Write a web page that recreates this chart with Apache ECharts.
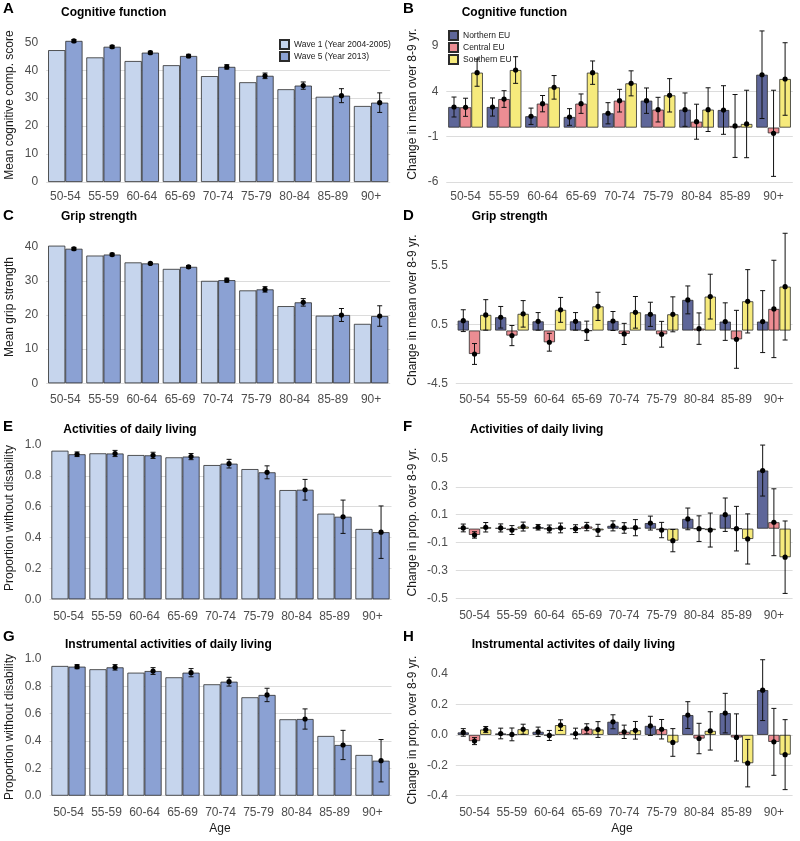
<!DOCTYPE html>
<html>
<head>
<meta charset="utf-8">
<script src="https://cdn.jsdelivr.net/npm/echarts@6/dist/echarts.min.js"></script>
<style>
  html, body { margin: 0; padding: 0; background: #fff; }
  #chart { width: 800px; height: 841px; }
</style>
</head>
<body>
<div id="chart"></div>
<script>
// categories
const ages = ['50-54', '55-59', '60-64', '65-69', '70-74', '75-79', '80-84', '85-89', '90+'];

// A: cognitive function, wave 1 vs wave 5
const cogW1 = [47.2, 44.6, 43.3, 41.8, 37.9, 35.7, 33.2, 30.5, 27.2];
const cogW5 = [50.5, 48.4, 46.3, 45.1, 41.2, 38.0, 34.5, 30.9, 28.4];
const cogW5Err = [0.5, 0.5, 0.5, 0.6, 0.8, 1.0, 1.3, 2.5, 3.5];

// B: change in cognitive function by region
const cogNorth = [2.27, 2.27, 1.25, 1.17, 1.58, 2.97, 1.98, 1.94, 5.83];
const cogNorthErr = [1.1, 1.0, 0.9, 0.92, 1.17, 1.4, 1.84, 2.68, 4.83];
const cogCentral = [2.24, 3.15, 2.64, 2.64, 2.97, 1.98, 0.65, 0.18, -0.63];
const cogCentralErr = [1.0, 0.92, 0.9, 1.07, 1.25, 1.36, 1.93, 3.47, 4.75];
const cogSouth = [6.06, 6.35, 4.44, 6.06, 4.88, 3.56, 1.98, 0.4, 5.36];
const cogSouthErr = [1.5, 1.47, 1.3, 1.29, 1.38, 1.84, 2.41, 3.72, 4.0];

// C: grip strength
const gripW1 = [40.3, 37.4, 35.4, 33.5, 30.0, 27.2, 22.6, 19.8, 17.4];
const gripW5 = [39.4, 37.7, 35.1, 34.1, 30.2, 27.5, 23.7, 20.0, 19.7];
const gripW5Err = [0.4, 0.4, 0.3, 0.4, 0.6, 0.8, 1.1, 1.9, 3.0];

// D: change in grip strength
const gripNorth = [0.84, 1.13, 0.78, 0.78, 0.81, 1.38, 2.61, 0.76, 0.76];
const gripNorthErr = [0.93, 0.92, 0.75, 0.75, 0.81, 1.03, 1.19, 1.6, 2.64];
const gripCentral = [-2.0, -0.43, -1.0, -0.02, -0.29, -0.32, 0.16, -0.75, 1.84];
const gripCentralErr = [0.89, 0.86, 0.76, 0.82, 0.9, 1.1, 1.34, 2.47, 4.15];
const gripSouth = [1.33, 1.42, 1.76, 2.06, 1.55, 1.38, 2.89, 2.49, 3.74];
const gripSouthErr = [1.3, 1.13, 1.06, 1.2, 1.35, 1.49, 1.91, 2.7, 4.55];

// E: activities of daily living
const adlW1 = [0.963, 0.946, 0.935, 0.920, 0.870, 0.844, 0.708, 0.555, 0.456];
const adlW5 = [0.940, 0.945, 0.933, 0.925, 0.879, 0.823, 0.710, 0.535, 0.435];
const adlW5Err = [0.015, 0.02, 0.02, 0.02, 0.028, 0.042, 0.067, 0.108, 0.17];

// F: change in ADL
const adlNorth = [0.005, 0.005, 0.01, 0.0, 0.02, 0.04, 0.07, 0.1, 0.417];
const adlNorthErr = [0.028, 0.029, 0.02, 0.028, 0.036, 0.05, 0.078, 0.12, 0.183];
const adlCentral = [-0.045, -0.01, -0.002, 0.015, 0.005, -0.01, 0.0, 0.0, 0.046];
const adlCentralErr = [0.023, 0.032, 0.028, 0.03, 0.038, 0.055, 0.092, 0.16, 0.24];
const adlSouth = [0.01, 0.015, 0.005, -0.012, 0.007, -0.086, -0.01, -0.074, -0.205];
const adlSouthErr = [0.034, 0.032, 0.035, 0.043, 0.058, 0.08, 0.122, 0.18, 0.26];

// G: instrumental activities of daily living
const iadlW1 = [0.949, 0.925, 0.90, 0.866, 0.815, 0.72, 0.559, 0.437, 0.298];
const iadlW5 = [0.944, 0.939, 0.912, 0.90, 0.834, 0.737, 0.561, 0.371, 0.256];
const iadlW5Err = [0.015, 0.02, 0.025, 0.03, 0.032, 0.049, 0.074, 0.107, 0.155];

// H: change in IADL
const iadlNorth = [0.016, 0.009, 0.02, 0.009, 0.086, 0.059, 0.13, 0.143, 0.294];
const iadlNorthErr = [0.025, 0.035, 0.031, 0.035, 0.046, 0.063, 0.088, 0.13, 0.2];
const iadlCentral = [-0.041, 0.003, -0.004, 0.04, 0.02, 0.037, -0.024, -0.017, -0.046];
const iadlCentralErr = [0.023, 0.042, 0.033, 0.033, 0.044, 0.064, 0.1, 0.155, 0.22];
const iadlSouth = [0.035, 0.037, 0.064, 0.035, 0.03, -0.05, 0.026, -0.186, -0.13];
const iadlSouthErr = [0.02, 0.033, 0.035, 0.052, 0.058, 0.091, 0.126, 0.156, 0.23];

// y tick labels
const cogTicks = [0, 10, 20, 30, 40, 50];
const cogChangeTicks = [-6, -1, 4, 9];
const gripTicks = [0, 10, 20, 30, 40];
const gripChangeTicks = [-4.5, 0.5, 5.5];
const propTicks = [0, 0.2, 0.4, 0.6, 0.8, 1.0];
const adlChangeTicks = [-0.5, -0.3, -0.1, 0.1, 0.3, 0.5];
const iadlChangeTicks = [-0.4, -0.2, 0, 0.2, 0.4];

const wave1Name = 'Wave 1 (Year 2004-2005)';
const wave5Name = 'Wave 5 (Year 2013)';
const regionNames = ['Northern EU', 'Central EU', 'Southern EU'];

const FONT = '"Liberation Sans", Arial, Helvetica, sans-serif';
const colW1 = '#c6d5ed', colW5 = '#8ba1d3';
const colN = '#5e6699', colC = '#ec8d93', colS = '#f6ea7c';

function waveBars(w1, w5, err) {
  return [
    {name: wave1Name, values: w1, color: colW1},
    {name: wave5Name, values: w5, err: err, color: colW5}
  ];
}
function regionBars(n, ne, c, ce, s, se) {
  return [
    {name: regionNames[0], values: n, err: ne, color: colN},
    {name: regionNames[1], values: c, err: ce, color: colC},
    {name: regionNames[2], values: s, err: se, color: colS}
  ];
}

const panels = [
  {letter: 'A', title: 'Cognitive function', yName: 'Mean cognitive comp. score', col: 0,
   left: 46.2, width: 344, y0: 182, ppu: 2.794, min: 0, max: 53, ticks: cogTicks, digits: 0, margin: 9,
   titleX: 61, titleY: 13, letterY: 9, nameY: 105, bars: waveBars(cogW1, cogW5, cogW5Err)},
  {letter: 'B', title: 'Cognitive function', yName: 'Change in mean over 8-9 yr.', col: 1,
   left: 446.3, width: 346.5, y0: 182, ppu: 9.067, min: -6, max: 11, ticks: cogChangeTicks, digits: 0, margin: 9,
   titleX: 461.7, titleY: 13, letterY: 9, nameY: 104,
   bars: regionBars(cogNorth, cogNorthErr, cogCentral, cogCentralErr, cogSouth, cogSouthErr)},
  {letter: 'C', title: 'Grip strength', yName: 'Mean grip strength', col: 0,
   left: 46.2, width: 344, y0: 383.3, ppu: 3.415, min: 0, max: 42, ticks: gripTicks, digits: 0, margin: 10,
   titleX: 61, titleY: 217, letterY: 216, nameY: 307, bars: waveBars(gripW1, gripW5, gripW5Err)},
  {letter: 'D', title: 'Grip strength', yName: 'Change in mean over 8-9 yr.', col: 1,
   left: 455.8, width: 336.8, y0: 383.3, ppu: 11.73, min: -4.5, max: 8.6, ticks: gripChangeTicks, digits: 1, margin: 10,
   titleX: 471.7, titleY: 217, letterY: 216, nameY: 310,
   bars: regionBars(gripNorth, gripNorthErr, gripCentral, gripCentralErr, gripSouth, gripSouthErr)},
  {letter: 'E', title: 'Activities of daily living', yName: 'Proportion without disability', col: 0,
   left: 49.5, width: 342, y0: 599.3, ppu: 154.3, min: 0, max: 1.02, ticks: propTicks, digits: 1, margin: 11,
   titleX: 63.3, titleY: 430, letterY: 427, nameY: 518, bars: waveBars(adlW1, adlW5, adlW5Err)},
  {letter: 'F', title: 'Activities of daily living', yName: 'Change in prop. over 8-9 yr.', col: 1,
   left: 455.8, width: 336.8, y0: 598.3, ppu: 139.3, min: -0.5, max: 0.63, ticks: adlChangeTicks, digits: 1, margin: 11,
   titleX: 470, titleY: 430, letterY: 427, nameY: 522,
   bars: regionBars(adlNorth, adlNorthErr, adlCentral, adlCentralErr, adlSouth, adlSouthErr)},
  {letter: 'G', title: 'Instrumental activities of daily living', yName: 'Proportion without disability', col: 0,
   left: 49.5, width: 342, y0: 795.7, ppu: 136.7, min: 0, max: 1.02, ticks: propTicks, digits: 1, margin: 11,
   titleX: 65, titleY: 645, letterY: 637, nameY: 727, bars: waveBars(iadlW1, iadlW5, iadlW5Err)},
  {letter: 'H', title: 'Instrumental activites of daily living', yName: 'Change in prop. over 8-9 yr.', col: 1,
   left: 455.8, width: 336.8, y0: 795.7, ppu: 152.1, min: -0.4, max: 0.52, ticks: iadlChangeTicks, digits: 1, margin: 11,
   titleX: 471.7, titleY: 645, letterY: 637, nameY: 730,
   bars: regionBars(iadlNorth, iadlNorthErr, iadlCentral, iadlCentralErr, iadlSouth, iadlSouthErr)}
];

// error bar + point, placed over the dodged bar in slot `slot` of `n`
function errorItem(slot, n) {
  return function (params, api) {
    const i = api.value(0), v = api.value(1), e = api.value(2);
    const mid = api.coord([i, v]);
    const hi = api.coord([i, v + e]);
    const lo = api.coord([i, v - e]);
    const band = api.size([1, 0])[0];
    const x = mid[0] + (slot - (n - 1) / 2) * band * 0.9 / n;
    const st = {stroke: '#111', lineWidth: 1};
    return {
      type: 'group',
      children: [
        {type: 'line', shape: {x1: x, y1: hi[1], x2: x, y2: lo[1]}, style: st},
        {type: 'line', shape: {x1: x - 2.5, y1: hi[1], x2: x + 2.5, y2: hi[1]}, style: st},
        {type: 'line', shape: {x1: x - 2.5, y1: lo[1], x2: x + 2.5, y2: lo[1]}, style: st},
        {type: 'circle', shape: {cx: x, cy: mid[1], r: 2.6}, style: {fill: '#000'}}
      ]
    };
  };
}

const grid = [], xAxis = [], yAxis = [], series = [], graphic = [];

panels.forEach((p, gi) => {
  const h = (p.max - p.min) * p.ppu;
  grid.push({left: p.left, top: p.y0 - h, width: p.width, height: h});
  xAxis.push({
    type: 'category', gridIndex: gi, data: ages,
    axisLine: {show: false}, axisTick: {show: false}, splitLine: {show: false},
    axisLabel: {fontSize: 12, color: '#4d4d4d', margin: p.margin, fontFamily: FONT, interval: 0}
  });
  yAxis.push({
    type: 'value', gridIndex: gi, min: p.min, max: p.max,
    axisLine: {show: false},
    axisTick: {show: false, customValues: p.ticks},
    axisLabel: {
      fontSize: 12, color: '#4d4d4d', margin: 8, fontFamily: FONT,
      customValues: p.ticks,
      formatter: v => (Math.abs(v) < 1e-9 ? 0 : v).toFixed(p.digits)
    },
    splitLine: {show: true, showMaxLine: false, lineStyle: {color: '#dcdcdc', width: 1}}
  });

  const n = p.bars.length;
  p.bars.forEach((b, k) => {
    series.push({
      type: 'bar', name: b.name, xAxisIndex: gi, yAxisIndex: gi,
      data: b.values, barWidth: (90 / n) + '%', barGap: '0%',
      itemStyle: {color: b.color, borderColor: '#2b2b2b', borderWidth: 0.8},
      emphasis: {disabled: true}
    });
  });
  p.bars.forEach((b, k) => {
    if (!b.err) return;
    series.push({
      type: 'custom', xAxisIndex: gi, yAxisIndex: gi, z: 5,
      renderItem: errorItem(k, n),
      data: b.values.map((v, i) => [i, v, b.err[i]]),
      encode: {x: 0, y: 1}
    });
  });

  const cx = p.col === 0 ? 0 : 400;
  graphic.push({
    type: 'text', x: cx + 3, y: p.letterY,
    style: {text: p.letter, font: 'bold 15px ' + FONT, fill: '#000', align: 'left', verticalAlign: 'middle'}
  });
  graphic.push({
    type: 'text', x: p.titleX, y: p.titleY,
    style: {text: p.title, font: 'bold 12px ' + FONT, fill: '#000', align: 'left', verticalAlign: 'middle'}
  });
  graphic.push({
    type: 'text', x: cx + (p.col === 0 ? 10 : 13), y: p.nameY, rotation: Math.PI / 2,
    style: {text: p.yName, font: '12px ' + FONT, fill: '#1a1a1a', align: 'center', verticalAlign: 'middle'}
  });
});

graphic.push({type: 'text', x: 220, y: 829, style: {text: 'Age', font: '12px ' + FONT, fill: '#1a1a1a', align: 'center', verticalAlign: 'middle'}});
graphic.push({type: 'text', x: 622, y: 829, style: {text: 'Age', font: '12px ' + FONT, fill: '#1a1a1a', align: 'center', verticalAlign: 'middle'}});

const legendBase = {
  orient: 'vertical', icon: 'rect', itemWidth: 9, itemHeight: 9, itemGap: 1,
  selectedMode: false, backgroundColor: '#fff', padding: [1, 2],
  textStyle: {fontSize: 8.5, color: '#1a1a1a', fontFamily: FONT, lineHeight: 9}
};

const chart = echarts.init(document.getElementById('chart'));
chart.setOption({
  animation: false,
  backgroundColor: '#fff',
  textStyle: {fontFamily: FONT},
  grid: grid,
  xAxis: xAxis,
  yAxis: yAxis,
  legend: [
    Object.assign({}, legendBase, {data: [wave1Name, wave5Name], left: 277, top: 38}),
    Object.assign({}, legendBase, {data: regionNames, left: 446, top: 29})
  ],
  graphic: graphic,
  series: series
});
window.addEventListener('resize', () => chart.resize());
</script>
</body>
</html>
